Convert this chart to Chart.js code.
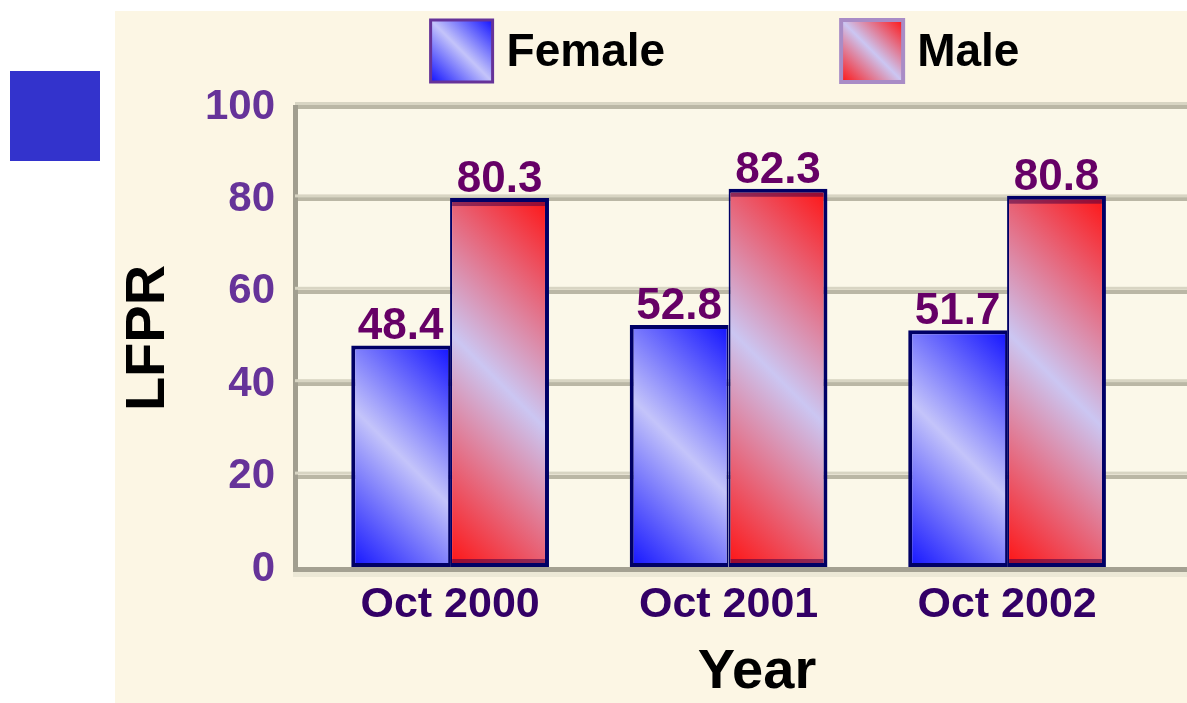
<!DOCTYPE html>
<html>
<head>
<meta charset="utf-8">
<script src="https://cdn.jsdelivr.net/npm/chart.js@4.4.1/dist/chart.umd.min.js"></script>
<style>
  html, body { margin: 0; padding: 0; background: #fff; overflow: hidden; width: 1187px; height: 703px; }
  #mark { position: absolute; left: 10px; top: 71px; width: 90px; height: 90px; background: #3333cc; }
  #chart { position: absolute; left: 115px; top: 11px; background: #fcf6e4; }
</style>
</head>
<body>
<div id="mark"></div>
<canvas id="chart" width="1110" height="692"></canvas>
<script>
const categories = ['Oct 2000', 'Oct 2001', 'Oct 2002'];
const female = [48.4, 52.8, 51.7];
const male = [80.3, 82.3, 80.8];
const yTicks = [0, 20, 40, 60, 80, 100];
const seriesNames = ['Female', 'Male'];

const FONT = '"Liberation Sans", Arial, sans-serif';
const BLUE = ['#1212ff', '#c4c4fa'];
const RED = ['#ff1212', '#cbc6f2'];

function diagGradient(ctx, x, y, w, h, deep, light) {
  const cx = x + w / 2, cy = y + h / 2, d = (w + h) / 4;
  const g = ctx.createLinearGradient(cx - d, cy + d, cx + d, cy - d);
  g.addColorStop(0, deep);
  g.addColorStop(0.5, light);
  g.addColorStop(1, deep);
  return g;
}

const plotBackground = {
  id: 'plotBackground',
  beforeDraw(chart) {
    const { ctx, chartArea: a } = chart;
    ctx.save();
    ctx.fillStyle = '#fbf8e9';
    ctx.fillRect(a.left, a.top, a.right - a.left, a.bottom - a.top);
    ctx.restore();
  }
};

// light upper edge of each grid line + soft shadow under the base line
const gridRelief = {
  id: 'gridRelief',
  beforeDatasetsDraw(chart) {
    const { ctx, chartArea: a, scales } = chart;
    ctx.save();
    ctx.fillStyle = '#d8d5c3';
    yTicks.forEach(v => {
      if (v === 0) return;
      const y = scales.y.getPixelForValue(v);
      ctx.fillRect(a.left, y - 5, a.right - a.left, 3);
    });
    ctx.fillStyle = '#ece8d6';
    ctx.fillRect(a.left - 2, a.bottom + 3, a.right - a.left, 5);
    ctx.restore();
  }
};

const barFill = {
  id: 'barFill',
  beforeDatasetsDraw(chart) {
    const ctx = chart.ctx;
    chart.data.datasets.forEach((ds, i) => {
      const cols = i === 0 ? BLUE : RED;
      chart.getDatasetMeta(i).data.forEach(el => {
        const top = Math.min(el.y, el.base), h = Math.abs(el.base - el.y);
        const g = diagGradient(ctx, el.x - el.width / 2, top, el.width, h, cols[0], cols[1]);
        el.options = Object.assign({}, el.options, { backgroundColor: g });
      });
    });
  }
};

const valueLabels = {
  id: 'valueLabels',
  afterDatasetsDraw(chart) {
    const ctx = chart.ctx;
    ctx.save();
    // dark rim just inside the top and bottom of the male bars
    ctx.fillStyle = 'rgba(70, 0, 70, 0.55)';
    chart.getDatasetMeta(1).data.forEach(el => {
      const l = el.x - el.width / 2 + 2, w = el.width - 6;
      ctx.fillRect(l, el.y + 4, w, 4);
      ctx.fillRect(l, el.base - 8, w, 4);
    });
    ctx.font = 'bold 44px ' + FONT;
    ctx.fillStyle = '#660066';
    ctx.textAlign = 'center';
    ctx.textBaseline = 'alphabetic';
    chart.data.datasets.forEach((ds, i) => {
      chart.getDatasetMeta(i).data.forEach((el, j) => {
        ctx.fillText(ds.data[j].toFixed(1), el.x, el.y - 6);
      });
    });
    ctx.restore();
  }
};

const boxLegend = {
  id: 'boxLegend',
  afterDraw(chart) {
    const ctx = chart.ctx;
    const box = 62, gap = 14, itemGap = 176, centerX = 610, midY = 40;
    ctx.save();
    ctx.font = 'bold 46px ' + FONT;
    const widths = seriesNames.map(n => ctx.measureText(n).width);
    const total = widths.reduce((s, w) => s + box + gap + w, 0) + itemGap * (seriesNames.length - 1);
    let x = centerX - total / 2;
    seriesNames.forEach((name, i) => {
      const cols = i === 0 ? BLUE : RED;
      const y = midY - box / 2;
      ctx.fillStyle = diagGradient(ctx, x, y, box, box, cols[0], cols[1]);
      ctx.fillRect(x, y, box, box);
      ctx.lineWidth = i === 0 ? 3 : 4;
      ctx.strokeStyle = i === 0 ? '#663399' : '#a98cc6';
      ctx.strokeRect(x, y, box, box);
      ctx.fillStyle = '#000';
      ctx.textAlign = 'left';
      ctx.textBaseline = 'middle';
      ctx.fillText(name, x + box + gap, midY + 2);
      x += box + gap + widths[i] + itemGap;
    });
    ctx.restore();
  }
};

new Chart(document.getElementById('chart'), {
  type: 'bar',
  data: {
    labels: categories.map((c, i) => i),
    datasets: [
      {
        label: seriesNames[0], data: female, backgroundColor: BLUE[0],
        borderColor: '#000066', borderSkipped: false,
        borderWidth: { top: 4, left: 4, bottom: 4, right: 2 }
      },
      {
        label: seriesNames[1], data: male, backgroundColor: RED[0],
        borderColor: '#000066', borderSkipped: false,
        borderWidth: { top: 4, left: 2, bottom: 4, right: 4 }
      }
    ]
  },
  options: {
    responsive: false,
    animation: false,
    events: [],
    layout: { padding: { top: 96, right: 6, bottom: 0, left: 0 } },
    datasets: { bar: { categoryPercentage: 0.71, barPercentage: 1.0 } },
    plugins: { legend: { display: false }, tooltip: { enabled: false } },
    scales: {
      x: {
        type: 'linear',
        min: -0.557,
        max: 2.761,
        offset: false,
        afterBuildTicks: s => { s.ticks = categories.map((c, i) => ({ value: i })); },
        afterFit: s => { s.height = 134; },
        grid: { display: false, drawTicks: false },
        border: { display: true, color: '#a4a192', width: 5 },
        ticks: {
          padding: 10,
          maxRotation: 0,
          color: '#330066',
          font: { family: FONT, size: 43, weight: 'bold' },
          callback: v => categories[v]
        },
        title: {
          display: true, text: 'Year', color: '#000',
          font: { family: FONT, size: 56, weight: 'bold', lineHeight: 1.1 },
          padding: { top: 0, bottom: 0 }
        }
      },
      y: {
        min: 0,
        max: 100,
        afterBuildTicks: s => { s.ticks = yTicks.map(v => ({ value: v })); },
        afterFit: s => { s.width = 180; },
        grid: { color: '#bab7a5', lineWidth: 4, drawTicks: false },
        border: { display: true, color: '#a19e8f', width: 5 },
        ticks: {
          padding: 20,
          color: '#663399',
          font: { family: FONT, size: 42, weight: 'bold' }
        },
        title: {
          display: true, text: 'LFPR', color: '#000',
          font: { family: FONT, size: 56, weight: 'bold', lineHeight: 1.2 },
          padding: { top: 0, bottom: 0 }
        }
      }
    }
  },
  plugins: [plotBackground, gridRelief, barFill, valueLabels, boxLegend]
});
</script>
</body>
</html>
